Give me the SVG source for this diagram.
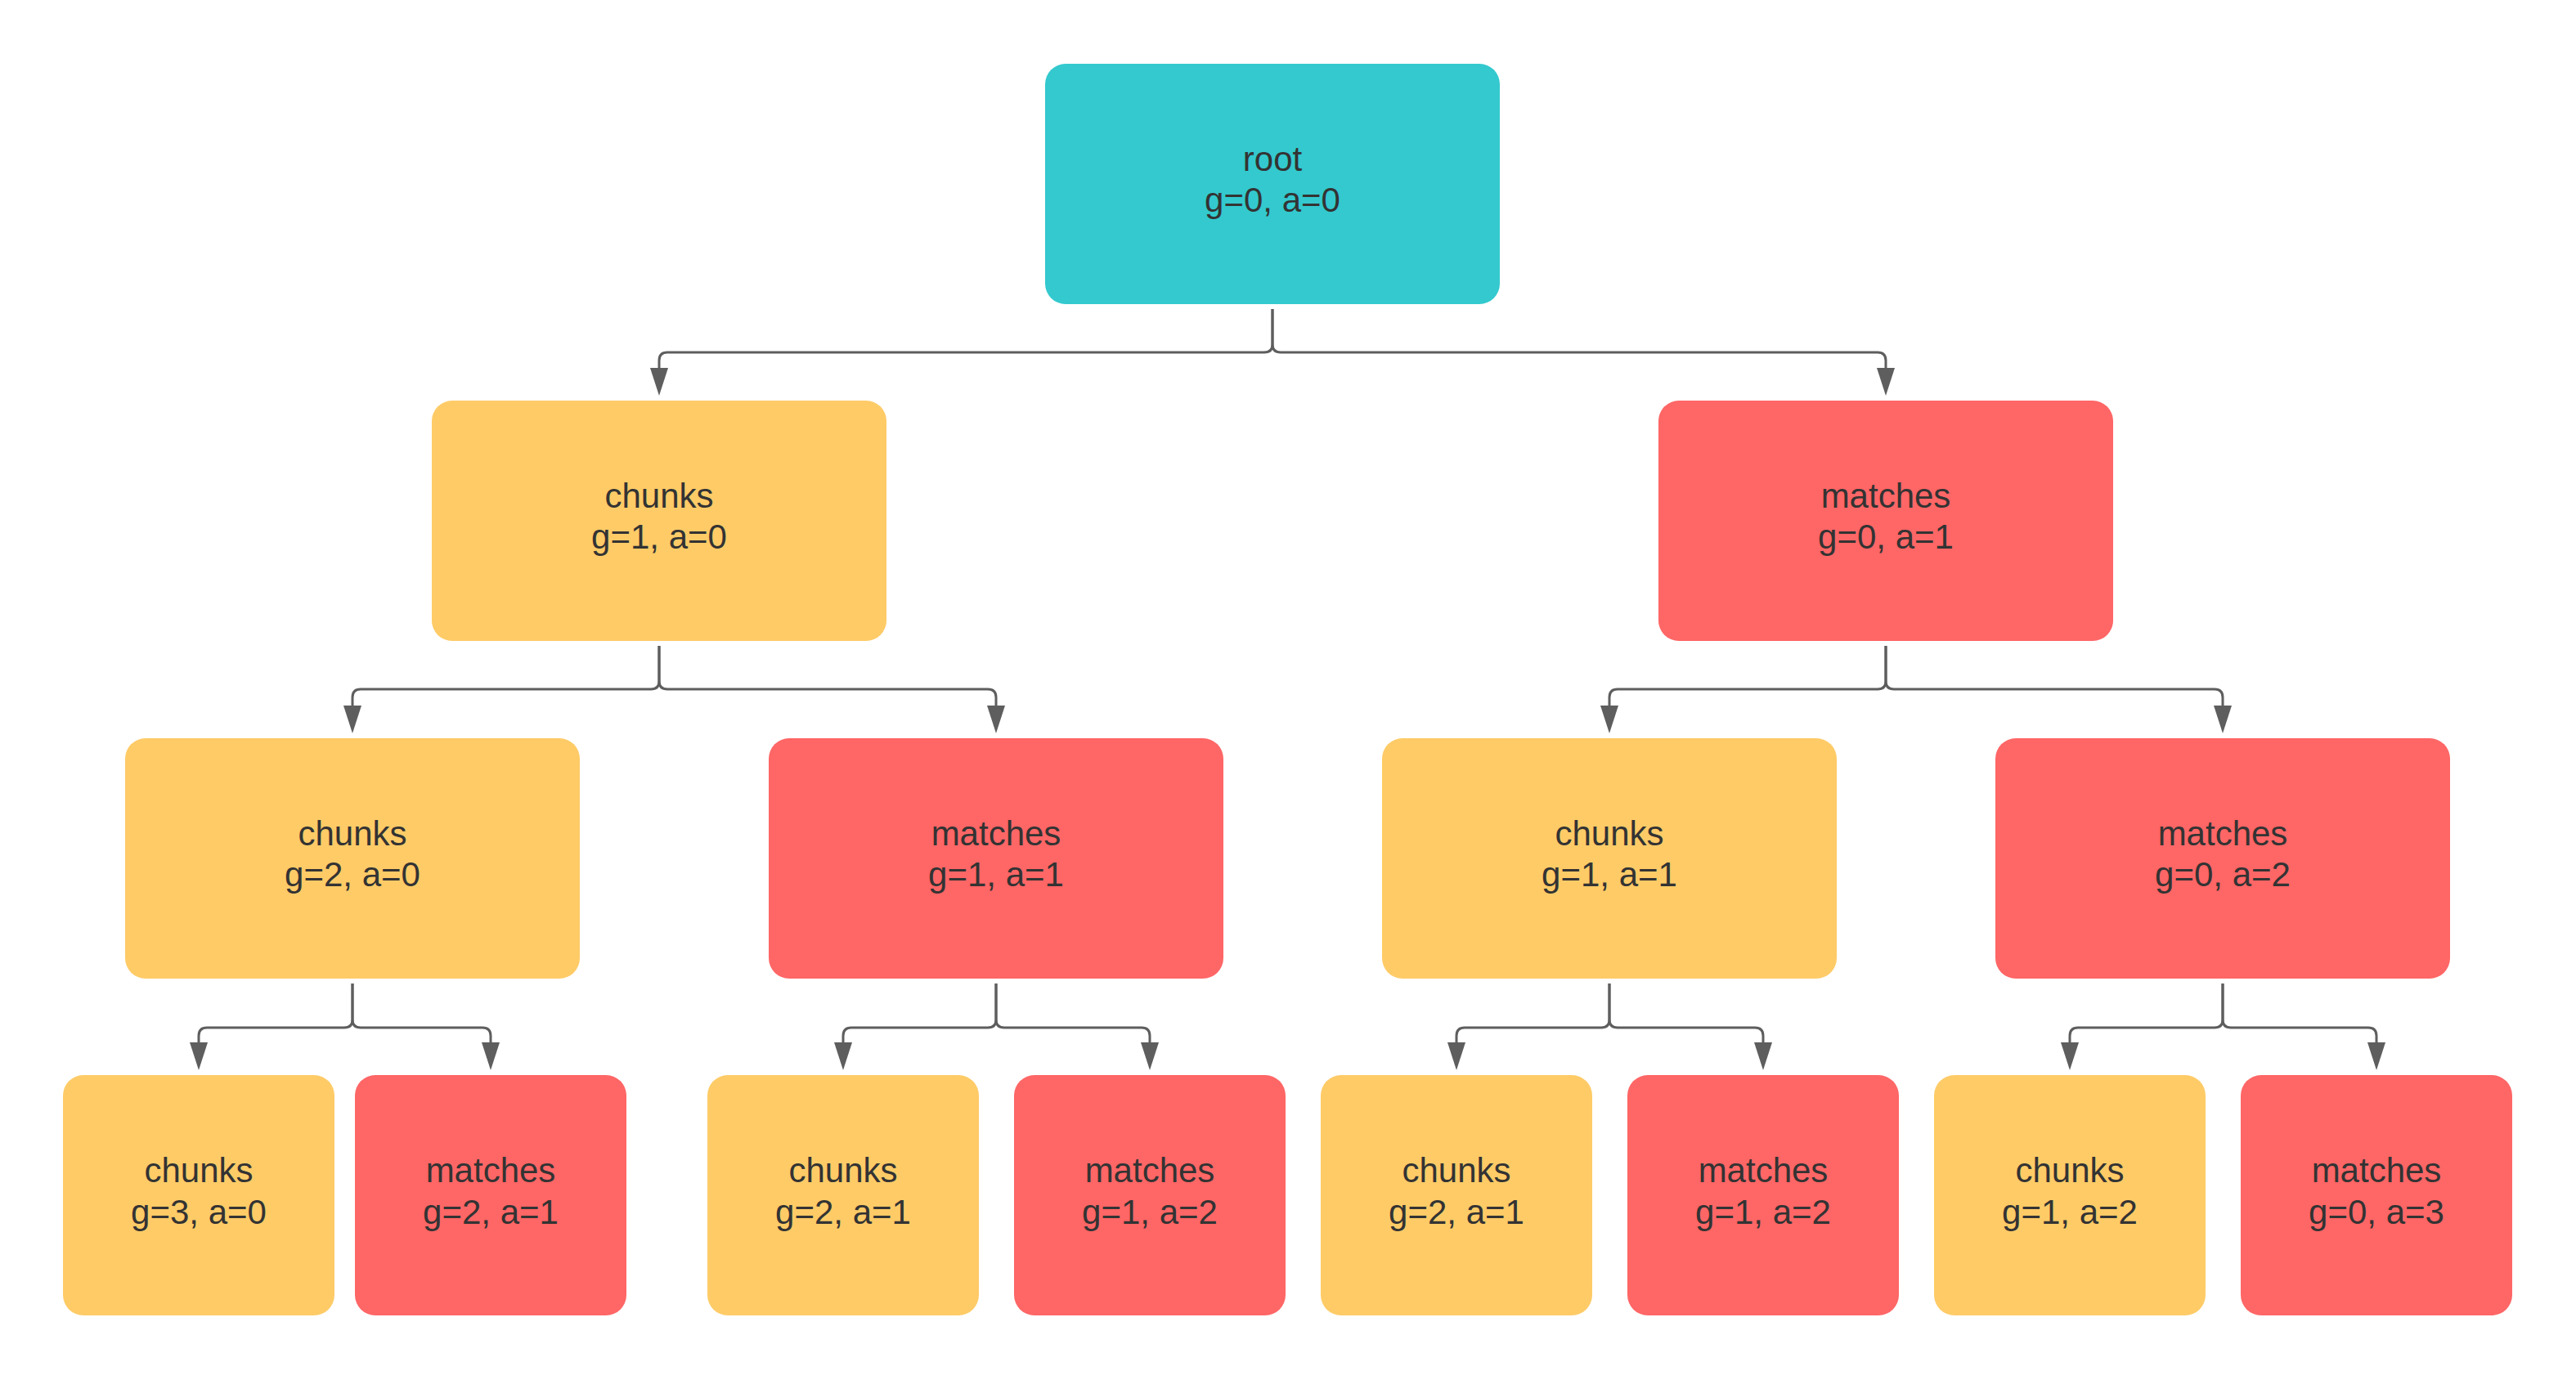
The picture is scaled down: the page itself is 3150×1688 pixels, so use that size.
<svg xmlns="http://www.w3.org/2000/svg" width="3150" height="1688" viewBox="0 0 3150 1688">
<style>
.box{stroke:none}
.root{fill:#33c9ce}
.ch{fill:#fecb67}
.ma{fill:#ff6666}
.t{font-family:"Liberation Sans",Arial,sans-serif;font-size:42px;fill:#333333;text-anchor:middle}
.c{fill:none;stroke:#5e5e5e;stroke-width:3;marker-end:url(#ah)}
</style>
<defs>
<marker id="ah" viewBox="0 0 34 22" refX="0" refY="11" markerWidth="34" markerHeight="22" markerUnits="userSpaceOnUse" orient="auto">
<path d="M0,0 L34,11 L0,22 z" fill="#5e5e5e"/>
</marker>
</defs>
<rect width="3150" height="1688" fill="#ffffff"/>
<g id="connectors">
<path class="c" d="M1556,378 V421 Q1556,431 1546,431 H816 Q806,431 806,441 V450"/>
<path class="c" d="M1556,378 V421 Q1556,431 1566,431 H2296 Q2306,431 2306,441 V450"/>
<path class="c" d="M806,790 V833 Q806,843 796,843 H441 Q431,843 431,853 V863"/>
<path class="c" d="M806,790 V833 Q806,843 816,843 H1208 Q1218,843 1218,853 V863"/>
<path class="c" d="M2306,790 V833 Q2306,843 2296,843 H1978 Q1968,843 1968,853 V863"/>
<path class="c" d="M2306,790 V833 Q2306,843 2316,843 H2708 Q2718,843 2718,853 V863"/>
<path class="c" d="M431,1203 V1247 Q431,1257 421,1257 H253 Q243,1257 243,1267 V1275"/>
<path class="c" d="M431,1203 V1247 Q431,1257 441,1257 H590 Q600,1257 600,1267 V1275"/>
<path class="c" d="M1218,1203 V1247 Q1218,1257 1208,1257 H1041 Q1031,1257 1031,1267 V1275"/>
<path class="c" d="M1218,1203 V1247 Q1218,1257 1228,1257 H1396 Q1406,1257 1406,1267 V1275"/>
<path class="c" d="M1968,1203 V1247 Q1968,1257 1958,1257 H1791 Q1781,1257 1781,1267 V1275"/>
<path class="c" d="M1968,1203 V1247 Q1968,1257 1978,1257 H2146 Q2156,1257 2156,1267 V1275"/>
<path class="c" d="M2718,1203 V1247 Q2718,1257 2708,1257 H2541 Q2531,1257 2531,1267 V1275"/>
<path class="c" d="M2718,1203 V1247 Q2718,1257 2728,1257 H2896 Q2906,1257 2906,1267 V1275"/>
</g>
<g id="n-root"><rect class="box root" x="1278" y="78" width="556" height="294" rx="25"/><text class="t" x="1556" y="208.5">root</text><text class="t" x="1556" y="259">g=0, a=0</text></g>
<g id="n-chunks-1-0"><rect class="box ch" x="528" y="490" width="556" height="294" rx="25"/><text class="t" x="806" y="620.5">chunks</text><text class="t" x="806" y="671">g=1, a=0</text></g>
<g id="n-matches-0-1"><rect class="box ma" x="2028" y="490" width="556" height="294" rx="25"/><text class="t" x="2306" y="620.5">matches</text><text class="t" x="2306" y="671">g=0, a=1</text></g>
<g id="n-chunks-2-0"><rect class="box ch" x="153" y="903" width="556" height="294" rx="25"/><text class="t" x="431" y="1033.5">chunks</text><text class="t" x="431" y="1084">g=2, a=0</text></g>
<g id="n-matches-1-1"><rect class="box ma" x="940" y="903" width="556" height="294" rx="25"/><text class="t" x="1218" y="1033.5">matches</text><text class="t" x="1218" y="1084">g=1, a=1</text></g>
<g id="n-chunks-1-1"><rect class="box ch" x="1690" y="903" width="556" height="294" rx="25"/><text class="t" x="1968" y="1033.5">chunks</text><text class="t" x="1968" y="1084">g=1, a=1</text></g>
<g id="n-matches-0-2"><rect class="box ma" x="2440" y="903" width="556" height="294" rx="25"/><text class="t" x="2718" y="1033.5">matches</text><text class="t" x="2718" y="1084">g=0, a=2</text></g>
<g id="n-chunks-3-0"><rect class="box ch" x="77" y="1315" width="332" height="294" rx="25"/><text class="t" x="243" y="1446">chunks</text><text class="t" x="243" y="1496.5">g=3, a=0</text></g>
<g id="n-matches-2-1a"><rect class="box ma" x="434" y="1315" width="332" height="294" rx="25"/><text class="t" x="600" y="1446">matches</text><text class="t" x="600" y="1496.5">g=2, a=1</text></g>
<g id="n-chunks-2-1a"><rect class="box ch" x="865" y="1315" width="332" height="294" rx="25"/><text class="t" x="1031" y="1446">chunks</text><text class="t" x="1031" y="1496.5">g=2, a=1</text></g>
<g id="n-matches-1-2a"><rect class="box ma" x="1240" y="1315" width="332" height="294" rx="25"/><text class="t" x="1406" y="1446">matches</text><text class="t" x="1406" y="1496.5">g=1, a=2</text></g>
<g id="n-chunks-2-1b"><rect class="box ch" x="1615" y="1315" width="332" height="294" rx="25"/><text class="t" x="1781" y="1446">chunks</text><text class="t" x="1781" y="1496.5">g=2, a=1</text></g>
<g id="n-matches-1-2b"><rect class="box ma" x="1990" y="1315" width="332" height="294" rx="25"/><text class="t" x="2156" y="1446">matches</text><text class="t" x="2156" y="1496.5">g=1, a=2</text></g>
<g id="n-chunks-1-2"><rect class="box ch" x="2365" y="1315" width="332" height="294" rx="25"/><text class="t" x="2531" y="1446">chunks</text><text class="t" x="2531" y="1496.5">g=1, a=2</text></g>
<g id="n-matches-0-3"><rect class="box ma" x="2740" y="1315" width="332" height="294" rx="25"/><text class="t" x="2906" y="1446">matches</text><text class="t" x="2906" y="1496.5">g=0, a=3</text></g>
</svg>
